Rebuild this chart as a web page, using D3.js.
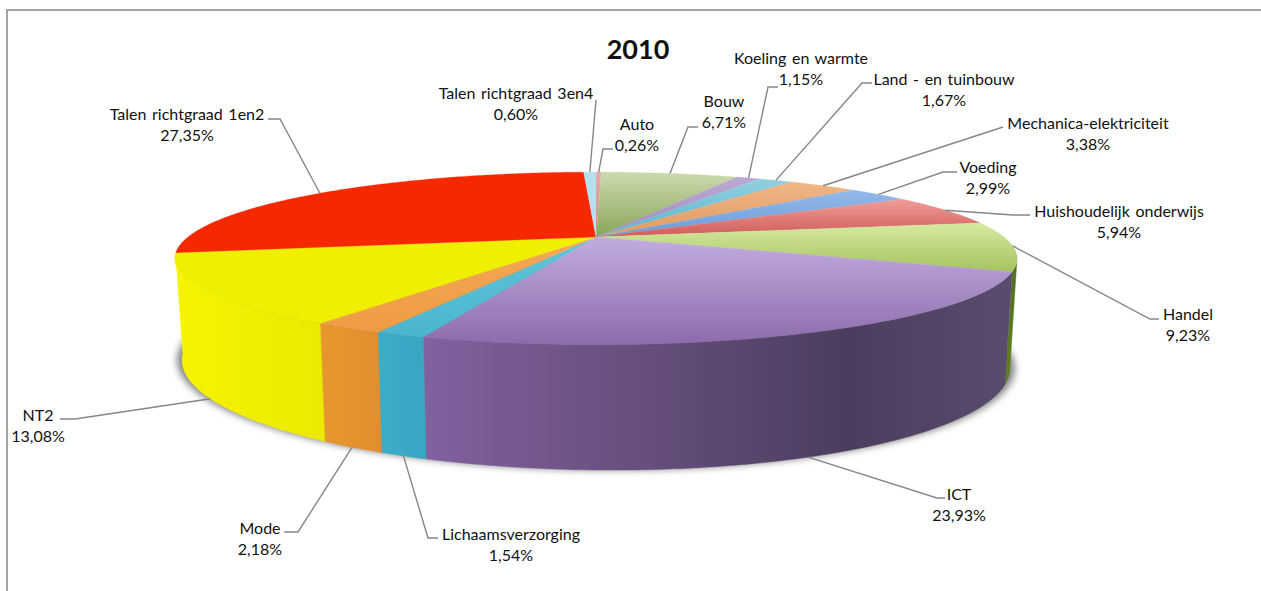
<!DOCTYPE html>
<html><head><meta charset="utf-8">
<script src="https://cdn.jsdelivr.net/npm/d3@7/dist/d3.min.js"></script>
<style>html,body{margin:0;padding:0;background:#fff}svg{display:block}text{font-family:Lato,"Open Sans",sans-serif;fill:#111}</style>
</head><body><div id="chart"></div>
<script>
const titleText = "2010";
const categories = ["Auto","Bouw","Koeling en warmte","Land - en tuinbouw","Mechanica-elektriciteit","Voeding","Huishoudelijk onderwijs","Handel","ICT","Lichaamsverzorging","Mode","NT2","Talen richtgraad 1en2","Talen richtgraad 3en4"];
const values = [0.26,6.71,1.15,1.67,3.38,2.99,5.94,9.23,23.93,1.54,2.18,13.08,27.35,0.60];
const valueLabels = ["0,26%","6,71%","1,15%","1,67%","3,38%","2,99%","5,94%","9,23%","23,93%","1,54%","2,18%","13,08%","27,35%","0,60%"];
const topLight = ["#e7aaa8","#c9d8ab","#bba8d2","#8fcfe0","#f0b585","#92b8e8","#ee9a96","#d3e89e","#bfa9dd","#5fc4d8","#f3a755","#f1ef00","#f52800","#b5e0ef"];
const topDark  = ["#cf7f7c","#88a55a","#a088bf","#58b3cc","#e09a60","#6a9bd8","#cf5c58","#a6c45e","#8c6cab","#49b6ce","#f09c44","#f1ef00","#f52800","#b5e0ef"];
const wallLeft  = ["#999","#999","#999","#999","#999","#999","#999","#64861f","#82619f","#3cadc8","#e8972f","#f6f400","#d02000","#999"];
const wallRight = ["#999","#999","#999","#999","#999","#999","#999","#4d6a1c","#4c3d5e","#38a5c2","#df8e2e","#ebe900","#d02000","#999"];
// text placement: label centre x, first baseline y, leader elbow and leader end
const labelLayout = [
 [637,130,[603,149],[613,149]],[724,107,[688,127],[698,127]],[801,64,[768,87],[778,87]],[944,85,[862,83],[872,83]],
 [1088,129,[1003,127],[1003,127]],[988,173,[943,172],[957,172]],[1119,217,[1013,215],[1030,215]],[1188,320,[1150,319],[1159,319]],
 [959,500,[937,498],[945,498]],[511,540,[428,538],[438,538]],[260,534,[298,532],[284,532]],[38,421,[75,419],[60,419]],
 [187,120,[280,119],[268,119]],[516,99,[596,100],[596,100]]];

const W = 1261, H = 591;
const svg = d3.select("#chart").append("svg").attr("width",W).attr("height",H);
const defs = svg.append("defs");
defs.append("filter").attr("id","soft").attr("x","-5%").attr("y","-5%").attr("width","110%").attr("height","110%")
  .append("feGaussianBlur").attr("stdDeviation",3.5);

svg.append("path").attr("d",`M7 ${H}V10H${W}`).attr("fill","none").attr("stroke","#a3a3a3").attr("stroke-width",2);

const pie = d3.pie().sort(null).value(d=>d);
const arcs = pie(values);
const cx = 596;
const topFace = {cy:237, rx:408, ry:81, px:0.248, py:0.248, tilt:0};
const botFace = {cy:338, rx:401, ry:99, px:0.248, py:0.25, tilt:4};
function project(f,a){
  const s=Math.sin(a), c=Math.cos(a);
  return [cx + f.rx*s/(1+f.px*c), f.cy + (-f.ry*c + f.tilt*s)/(1+f.py*c)];
}
const line = d3.line();
function samples(a,b){ const n=Math.max(2,Math.ceil((b-a)/0.01)); return d3.range(n+1).map(i=>a+(b-a)*i/n); }

// shadow
const all = samples(0,2*Math.PI);
svg.append("path").attr("d",line(all.map(a=>project(botFace,a)))+"Z")
  .attr("fill","#858585").attr("filter","url(#soft)")
  .attr("transform",`translate(${cx} 337) scale(1.012 1.0) translate(${-cx} -337)`);

// walls
const wallFrom = 1.86, wallTo = 4.52;
const walls = svg.append("g");
arcs.forEach((d,i)=>{
  const a=Math.max(d.startAngle,wallFrom), b=Math.min(d.endAngle,wallTo);
  if(b<=a) return;
  const t=samples(a,b).map(x=>project(topFace,x)), u=samples(a,b).map(x=>project(botFace,x)).reverse();
  const pts=t.concat(u), ex=d3.extent(pts,p=>p[0]);
  const g=defs.append("linearGradient").attr("id","w"+i).attr("gradientUnits","userSpaceOnUse")
    .attr("x1",ex[0]).attr("x2",ex[1]).attr("y1",0).attr("y2",0);
  g.append("stop").attr("offset",0).attr("stop-color",i===8?wallLeft[i]:wallRight[i]);
  if(i===8){ g.append("stop").attr("offset",0.72).attr("stop-color",wallRight[i]);
    g.append("stop").attr("offset",1).attr("stop-color","#5a4c6e"); }
  else { g.attr("x1",ex[1]).attr("x2",ex[0]); g.append("stop").attr("offset",1).attr("stop-color",wallLeft[i]); }
  walls.append("path").attr("d",line(pts)+"Z").attr("fill",`url(#w${i})`).attr("stroke",`url(#w${i})`).attr("stroke-width",0.4);
});

// top face
const faces = svg.append("g");
arcs.forEach((d,i)=>{
  const pts=[[cx,topFace.cy]].concat(samples(d.startAngle,d.endAngle).map(x=>project(topFace,x)));
  const g=defs.append("linearGradient").attr("id","t"+i).attr("x1",0).attr("x2",0).attr("y1",0).attr("y2",1);
  g.append("stop").attr("offset",0.05).attr("stop-color",topLight[i]);
  g.append("stop").attr("offset",1).attr("stop-color",topDark[i]);
  faces.append("path").attr("d",line(pts)+"Z").attr("fill",`url(#t${i})`).attr("stroke",`url(#t${i})`).attr("stroke-width",0.3);
});

// leaders and labels
const front = a => Math.cos(a)<-0.35;
const leaders = svg.append("g").attr("fill","none").attr("stroke","#868686").attr("stroke-width",1.4);
const labels = svg.append("g").attr("text-anchor","middle").attr("font-size",16).attr("word-spacing",1.5);
arcs.forEach((d,i)=>{
  const mid=(d.startAngle+d.endAngle)/2, L=labelLayout[i];
  const start=project(front(mid)?botFace:topFace,mid);
  leaders.append("path").attr("d",line([start,L[2],L[3]]));
  const t=labels.append("text").attr("x",L[0]).attr("y",L[1]);
  t.append("tspan").attr("x",L[0]).text(categories[i]);
  t.append("tspan").attr("x",L[0]).attr("dy",21).text(valueLabels[i]);
});
svg.append("text").attr("x",638).attr("y",59).attr("text-anchor","middle").attr("font-size",27).attr("font-weight",700).text(titleText);
</script></body></html>
